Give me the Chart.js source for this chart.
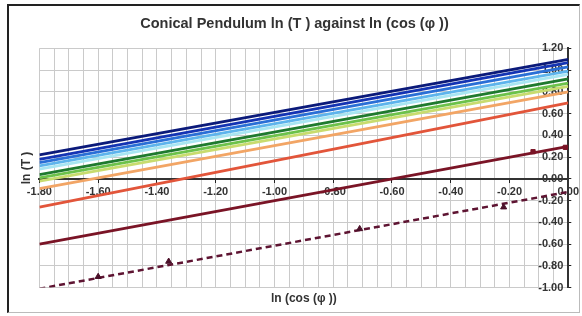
<!DOCTYPE html>
<html>
<head>
<meta charset="utf-8">
<script src="https://cdn.jsdelivr.net/npm/chart.js@4.4.0/dist/chart.umd.min.js"></script>
<style>
  html, body { margin: 0; padding: 0; background: #fff; }
  #wrap { position: relative; width: 582px; height: 316px; }
  #frame { position: absolute; left: 7px; top: 4px; width: 570px; height: 306px;
           border-left: 2px solid #222; border-top: 2px solid #222;
           border-right: 1px solid #bbb; border-bottom: 1px solid #bbb; pointer-events: none; }
  canvas { position: absolute; left: 0; top: 0; }
</style>
</head>
<body>
<div id="wrap">
  <canvas id="chart" width="582" height="316"></canvas>
  <div id="frame"></div>
</div>
<script>
// x ends of every trend line (ln cos phi)
const lineX = [-1.80, 0.00];

// ln(T) at x = -1.80 and at x = 0.00 for each line, top to bottom
const lineNames = ['L1', 'L2', 'L3', 'L4', 'L5', 'L6', 'L7', 'L8', 'L9', 'L10', 'L11'];
const leftValues  = [0.22, 0.18, 0.15, 0.12, 0.09, 0.04, 0.01, -0.02, -0.09, -0.26, -0.60];
const rightValues = [1.10, 1.07, 1.03, 0.99, 0.96, 0.92, 0.88, 0.85, 0.80, 0.70, 0.30];

// dashed trend line and its measured points
const dashedLeft = -1.01;
const dashedRight = -0.12;
const pointsX = [-1.60, -1.36, -0.71, -0.22];
const pointsY = [-0.90, -0.76, -0.46, -0.26];

// measured points on the dark red line
const redPointsX = [-0.12, -0.01];
const redPointsY = [0.25, 0.29];

const lineColors = ['#0b1a7a', '#1434b4', '#2a6fd6', '#5db4ec', '#a8e6f2', '#1f7a2e',
                    '#6cc24a', '#c8dc6e', '#f2a565', '#e2553a', '#7a1426'];

const datasets = lineNames.map((name, i) => ({
  label: name,
  data: [{ x: lineX[0], y: leftValues[i] }, { x: lineX[1], y: rightValues[i] }],
  borderColor: lineColors[i],
  borderWidth: 2.8,
  pointRadius: 0,
  showLine: true,
  order: 2
}));

datasets.push({
  label: 'trend',
  data: [{ x: lineX[0], y: dashedLeft }, { x: lineX[1], y: dashedRight }],
  borderColor: '#5e1432',
  borderWidth: 2.5,
  borderDash: [6, 4],
  pointRadius: 0,
  showLine: true,
  order: 1
});

datasets.push({
  label: 'measured',
  data: pointsX.map((x, i) => ({ x: x, y: pointsY[i] })),
  backgroundColor: '#4a0f28',
  borderColor: '#4a0f28',
  pointStyle: 'triangle',
  pointRadius: 3.5,
  showLine: false,
  order: 0
});

datasets.push({
  label: 'measured red',
  data: redPointsX.map((x, i) => ({ x: x, y: redPointsY[i] })),
  backgroundColor: '#7a1426',
  borderColor: '#7a1426',
  pointStyle: 'rect',
  pointRadius: 3,
  showLine: false,
  order: 0
});

const major = (v, step) => Math.abs(Math.round(v / step) * step - v) < 1e-6;
const fontFamily = 'Arial, "Liberation Sans", sans-serif';
const tickFont = { family: fontFamily, size: 11, weight: 'bold' };
const titleFont = { family: fontFamily, size: 12, weight: 'bold' };

new Chart(document.getElementById('chart').getContext('2d'), {
  type: 'scatter',
  data: { datasets: datasets },
  options: {
    responsive: false,
    animation: false,
    layout: { padding: { left: 19, right: 12, top: 6, bottom: 10 } },
    plugins: {
      legend: { display: false },
      tooltip: { enabled: false },
      title: {
        display: true,
        text: 'Conical Pendulum ln (T ) against ln (cos (\u03C6 ))',
        color: '#333',
        font: { family: fontFamily, size: 14.5, weight: 'bold' },
        padding: { top: 9, bottom: 16 }
      }
    },
    scales: {
      x: {
        type: 'linear',
        min: -1.8,
        max: 0,
        position: { y: 0 },
        border: { color: '#333', width: 2 },
        grid: {
          color: '#cacaca',
          lineWidth: 1,
          tickLength: 3,
          tickColor: ctx => major(ctx.tick.value, 0.2) ? '#222' : 'rgba(0,0,0,0)'
        },
        ticks: {
          stepSize: 0.05,
          autoSkip: false,
          maxRotation: 0,
          color: '#333',
          font: tickFont,
          padding: 3,
          callback: v => major(v, 0.2) ? v.toFixed(2) : ''
        }
      },
      xTitle: {
        type: 'linear',
        position: 'bottom',
        grid: { display: false, drawTicks: false },
        border: { display: false },
        ticks: { display: false },
        title: {
          display: true,
          text: 'ln (cos (\u03C6 ))',
          color: '#333',
          font: titleFont,
          padding: { top: 4, bottom: 0 }
        }
      },
      y: {
        type: 'linear',
        min: -1.0,
        max: 1.2,
        position: 'right',
        border: { color: '#333', width: 2 },
        grid: {
          color: '#cacaca',
          lineWidth: 1,
          tickLength: 3,
          tickColor: ctx => major(ctx.tick.value, 0.2) ? '#222' : 'rgba(0,0,0,0)'
        },
        ticks: {
          stepSize: 0.1,
          mirror: true,
          padding: -5,
          color: '#333',
          font: tickFont,
          callback: v => major(v, 0.2) ? v.toFixed(2) : ''
        }
      },
      yTitle: {
        type: 'linear',
        position: 'left',
        grid: { display: false, drawTicks: false },
        border: { display: false },
        ticks: { display: false },
        title: {
          display: true,
          text: 'ln (T )',
          color: '#333',
          font: titleFont,
          padding: { top: 0, bottom: 6 }
        }
      }
    }
  }
});
</script>
</body>
</html>
